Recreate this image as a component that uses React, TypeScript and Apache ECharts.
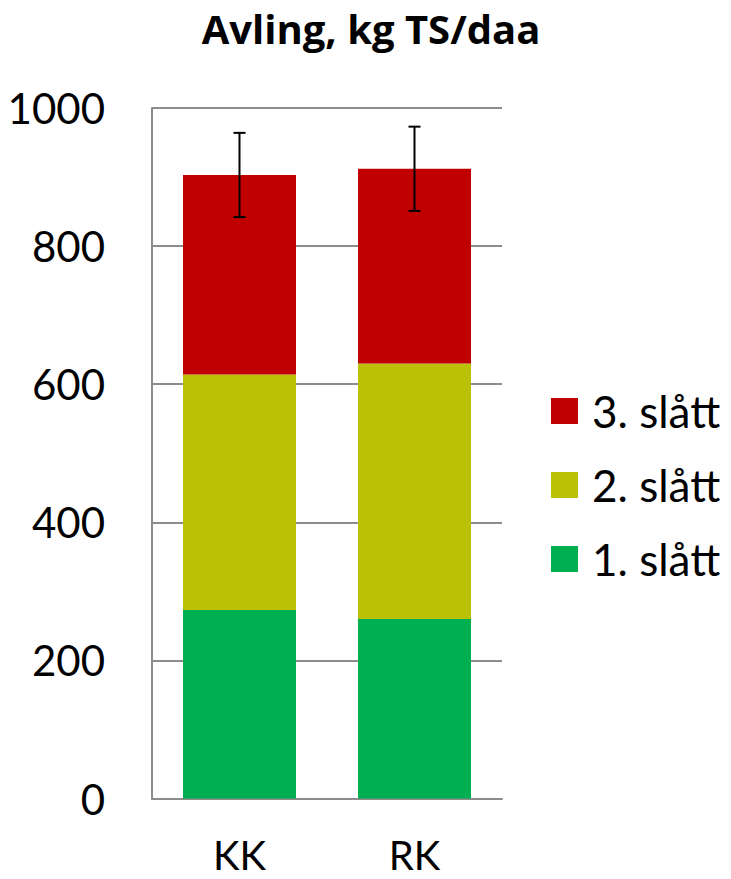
import React, { useEffect, useRef } from "react";
import * as echarts from "echarts";

const categories = ["KK", "RK"];
const cut1 = [273, 260];
const cut2 = [341, 370];
const cut3 = [289, 282];
const errorPlusMinus = [61, 61];
const seriesNames = ["1. slått", "2. slått", "3. slått"];
const seriesColors = ["#00B050", "#BBC106", "#C00000"];
const yTicks = [0, 200, 400, 600, 800, 1000];

const FONT = "Lato, 'Open Sans', sans-serif";

export default function App() {
  const ref = useRef<HTMLDivElement>(null);
  useEffect(() => {
    if (!ref.current) return;
    const chart = echarts.init(ref.current, null, { renderer: "svg" });
    const totals = categories.map((_, i) => cut1[i] + cut2[i] + cut3[i]);
    const values = [cut1, cut2, cut3];
    const option: any = {
      animation: false,
      graphic: [
        {
          type: "text",
          x: 371,
          y: 8,
          style: {
            text: "Avling, kg TS/daa",
            font: `bold 40px 'Open Sans', sans-serif`,
            fill: "#000",
            textAlign: "center",
            textVerticalAlign: "top",
          },
        },
      ],
      legend: {
        orient: "vertical",
        left: 551,
        top: 387,
        padding: 0,
        itemWidth: 27,
        itemHeight: 26,
        itemGap: 26,
        icon: "rect",
        data: [seriesNames[2], seriesNames[1], seriesNames[0]],
        textStyle: {
          fontFamily: FONT,
          fontSize: 44,
          color: "#000",
          lineHeight: 48,
          padding: [0, 0, 0, 9],
        },
      },
      grid: { left: 152, right: 229, top: 108, bottom: 80.5, outerBoundsMode: "none", containLabel: false },
      xAxis: {
        type: "category",
        data: categories,
        axisLine: { show: true, lineStyle: { color: "#8C8C8C", width: 2 } },
        axisTick: { show: false },
        axisLabel: {
          fontFamily: FONT,
          fontSize: 40,
          lineHeight: 36,
          color: "#000",
          margin: 38,
        },
      },
      yAxis: {
        type: "value",
        min: 0,
        max: yTicks[yTicks.length - 1],
        interval: 200,
        axisLine: { show: true, lineStyle: { color: "#8C8C8C", width: 2 } },
        axisTick: { show: false },
        splitLine: { show: true, lineStyle: { color: "#8C8C8C", width: 2 } },
        axisLabel: {
          fontFamily: FONT,
          fontSize: 42,
          color: "#000",
          margin: 47,
          formatter: (v: number) => String(v),
        },
      },
      series: [
        ...values.map((v, k) => ({
          name: seriesNames[k],
          type: "bar",
          stack: "total",
          data: v,
          barWidth: 113,
          itemStyle: { color: seriesColors[k] },
        })),
        {
          type: "custom",
          name: "err",
          data: categories.map((_, i) => [
            i,
            totals[i] - errorPlusMinus[i],
            totals[i] + errorPlusMinus[i],
          ]),
          z: 10,
          renderItem: (params: any, api: any) => {
            const x = api.value(0);
            const lo = api.coord([x, api.value(1)]);
            const hi = api.coord([x, api.value(2)]);
            const cap = 6;
            const style = { stroke: "#000", lineWidth: 2 };
            return {
              type: "group",
              children: [
                { type: "line", shape: { x1: lo[0], y1: lo[1], x2: hi[0], y2: hi[1] }, style },
                { type: "line", shape: { x1: lo[0] - cap, y1: lo[1], x2: lo[0] + cap, y2: lo[1] }, style },
                { type: "line", shape: { x1: hi[0] - cap, y1: hi[1], x2: hi[0] + cap, y2: hi[1] }, style },
              ],
            };
          },
        },
      ],
    };
    chart.setOption(option);
    return () => chart.dispose();
  }, []);
  return (
    <div
      ref={ref}
      style={{ position: "fixed", left: 0, top: 0, width: 731, height: 879, background: "#fff" }}
    />
  );
}
